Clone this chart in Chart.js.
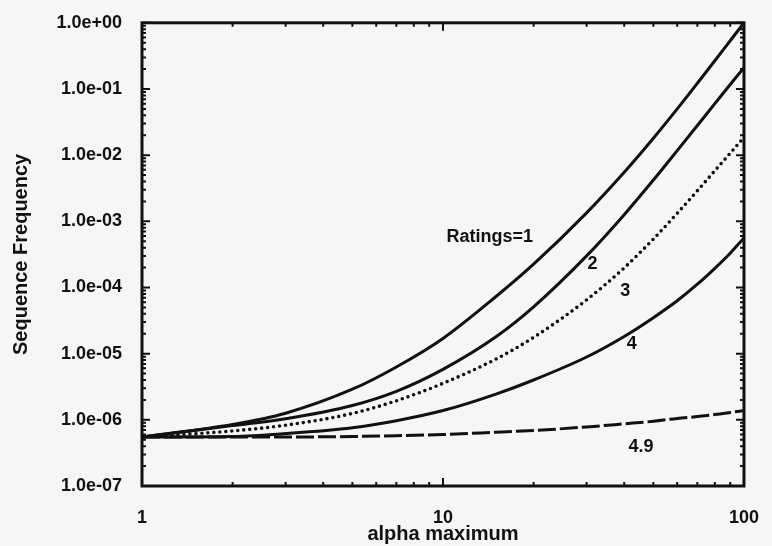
<!DOCTYPE html>
<html>
<head>
<meta charset="utf-8">
<title>Sequence Frequency vs alpha maximum</title>
<script src="https://cdn.jsdelivr.net/npm/chart.js@4.4.0/dist/chart.umd.min.js"></script>
<style>
  html, body { margin: 0; padding: 0; background: #f6f6f6; }
  #wrap { width: 772px; height: 546px; }
</style>
</head>
<body>
<div id="wrap"><canvas id="freq-chart"></canvas></div>
<script>
// alpha maximum values the curves are sampled at
const alphaMax = [1, 2, 3, 5, 7, 10, 15, 20, 30, 40, 50, 60, 70, 80, 90, 100];

// sequence frequency for each rating
const ratings1  = [5.5e-7, 8.5e-7, 1.26e-6, 2.9e-6, 6.3e-6, 1.7e-5, 7.3e-5, 2.25e-4, 1.34e-3, 5.5e-3, 1.8e-2, 5.0e-2, 0.122, 0.267, 0.536, 1.0];
const ratings2  = [5.5e-7, 8.2e-7, 1.04e-6, 1.65e-6, 2.7e-6, 5.8e-6, 1.8e-5, 5.1e-5, 3.0e-4, 1.26e-3, 4.2e-3, 1.17e-2, 2.8e-2, 6.0e-2, 0.117, 0.21];
const ratings3  = [5.5e-7, 6.8e-7, 8.3e-7, 1.25e-6, 1.94e-6, 3.56e-6, 8.3e-6, 1.76e-5, 6.5e-5, 1.98e-4, 5.4e-4, 1.32e-3, 2.9e-3, 5.8e-3, 1.07e-2, 1.86e-2];
const ratings4  = [5.5e-7, 5.6e-7, 6.2e-7, 7.6e-7, 9.7e-7, 1.38e-6, 2.45e-6, 4.0e-6, 8.9e-6, 1.82e-5, 3.5e-5, 6.3e-5, 1.12e-4, 1.95e-4, 3.3e-4, 5.6e-4];
const ratings49 = [5.5e-7, 5.5e-7, 5.5e-7, 5.6e-7, 5.75e-7, 6.0e-7, 6.5e-7, 6.9e-7, 7.8e-7, 8.7e-7, 9.5e-7, 1.05e-6, 1.12e-6, 1.2e-6, 1.29e-6, 1.38e-6];

const xTicks = [1, 10, 100];
const xTickLabels = ['1', '10', '100'];
const yTicks = [1e-7, 1e-6, 1e-5, 1e-4, 1e-3, 1e-2, 1e-1, 1];
const yTickLabels = ['1.0e-07', '1.0e-06', '1.0e-05', '1.0e-04', '1.0e-03', '1.0e-02', '1.0e-01', '1.0e+00'];

// curve names written next to the lines (anchored in data units)
const curveNotes = [
  { text: 'Ratings=1', x: 14.3, y: 5.8e-4 },
  { text: '2', x: 31.4, y: 2.3e-4 },
  { text: '3', x: 40.3, y: 8.7e-5 },
  { text: '4', x: 42.4, y: 1.4e-5 },
  { text: '4.9', x: 45.5, y: 3.9e-7 }
];

const FONT = '"Liberation Sans", Arial, Helvetica, sans-serif';
const INK = '#111';

function toPoints(ys) {
  return alphaMax.map((x, i) => ({ x: x, y: ys[i] }));
}

function curve(label, ys, dash, cap) {
  return {
    label: label,
    data: toPoints(ys),
    borderColor: INK,
    borderWidth: dash && dash[0] === 0 ? 3.6 : 3,
    borderDash: dash || [],
    borderCapStyle: cap || 'butt',
    pointRadius: 0,
    fill: false,
    cubicInterpolationMode: 'monotone'
  };
}

// page background, frame with inward ticks, and the curve names
const framePlugin = {
  id: 'frame',
  beforeDraw(chart) {
    const ctx = chart.ctx;
    ctx.save();
    ctx.fillStyle = '#f6f6f6';
    ctx.fillRect(0, 0, chart.width, chart.height);
    ctx.restore();
  },
  afterDraw(chart) {
    const ctx = chart.ctx;
    const a = chart.chartArea;
    const xs = chart.scales.x;
    const ys = chart.scales.y;
    ctx.save();
    ctx.strokeStyle = INK;
    ctx.lineWidth = 3;
    ctx.strokeRect(a.left, a.top, a.right - a.left, a.bottom - a.top);

    ctx.lineWidth = 2;
    ctx.beginPath();
    // y ticks on the left and right edges
    for (let d = 0; d < yTicks.length; d++) {
      for (let m = 1; m <= 9; m++) {
        const v = yTicks[d] * m;
        if (v > ys.max * 1.0001) continue;
        const py = ys.getPixelForValue(v);
        const len = m === 1 ? 8 : 4;
        ctx.moveTo(a.left, py); ctx.lineTo(a.left + len, py);
        ctx.moveTo(a.right, py); ctx.lineTo(a.right - len, py);
      }
    }
    // x ticks on the bottom and top edges
    for (let d = 0; d < xTicks.length; d++) {
      for (let m = 1; m <= 9; m++) {
        const v = xTicks[d] * m;
        if (v > xs.max * 1.0001) continue;
        const px = xs.getPixelForValue(v);
        const len = m === 1 ? 8 : 4;
        ctx.moveTo(px, a.bottom); ctx.lineTo(px, a.bottom - len);
        ctx.moveTo(px, a.top); ctx.lineTo(px, a.top + len);
      }
    }
    ctx.stroke();

    ctx.fillStyle = INK;
    ctx.font = 'bold 18px ' + FONT;
    ctx.textAlign = 'center';
    ctx.textBaseline = 'middle';
    curveNotes.forEach(n => {
      ctx.fillText(n.text, xs.getPixelForValue(n.x), ys.getPixelForValue(n.y));
    });
    ctx.restore();
  }
};

const ctx = document.getElementById('freq-chart').getContext('2d');

new Chart(ctx, {
  type: 'line',
  data: {
    datasets: [
      curve('Ratings=1', ratings1),
      curve('2', ratings2),
      curve('3', ratings3, [0, 6], 'round'),
      curve('4', ratings4),
      curve('4.9', ratings49, [18, 4])
    ]
  },
  options: {
    responsive: true,
    maintainAspectRatio: false,
    devicePixelRatio: 1,
    animation: false,
    layout: { padding: { top: 15, right: 22, left: 0, bottom: 0 } },
    plugins: {
      legend: { display: false },
      tooltip: { enabled: false }
    },
    scales: {
      x: {
        type: 'logarithmic',
        min: 1,
        max: 100,
        afterBuildTicks: scale => { scale.ticks = xTicks.map(v => ({ value: v })); },
        afterFit: scale => { scale.height = 60; },
        grid: { display: false },
        border: { display: false },
        ticks: {
          color: INK,
          font: { family: FONT, size: 18, weight: 'bold' },
          padding: 13,
          autoSkip: false,
          maxRotation: 0,
          callback: (value, i) => xTickLabels[i]
        },
        title: {
          display: true,
          text: 'alpha maximum',
          color: INK,
          font: { family: FONT, size: 20, weight: 'bold' },
          padding: { top: 1, bottom: 0 }
        }
      },
      y: {
        type: 'logarithmic',
        min: 1e-7,
        max: 1,
        afterBuildTicks: scale => { scale.ticks = yTicks.map(v => ({ value: v })); },
        afterFit: scale => { scale.width = 142; },
        grid: { display: false },
        border: { display: false },
        ticks: {
          color: INK,
          font: { family: FONT, size: 18, weight: 'bold' },
          padding: 12,
          autoSkip: false,
          callback: (value, i) => yTickLabels[i]
        },
        title: {
          display: true,
          text: 'Sequence Frequency',
          color: INK,
          font: { family: FONT, size: 20, weight: 'bold' },
          padding: { top: 9, bottom: 0 }
        }
      }
    }
  },
  plugins: [framePlugin]
});
</script>
</body>
</html>
